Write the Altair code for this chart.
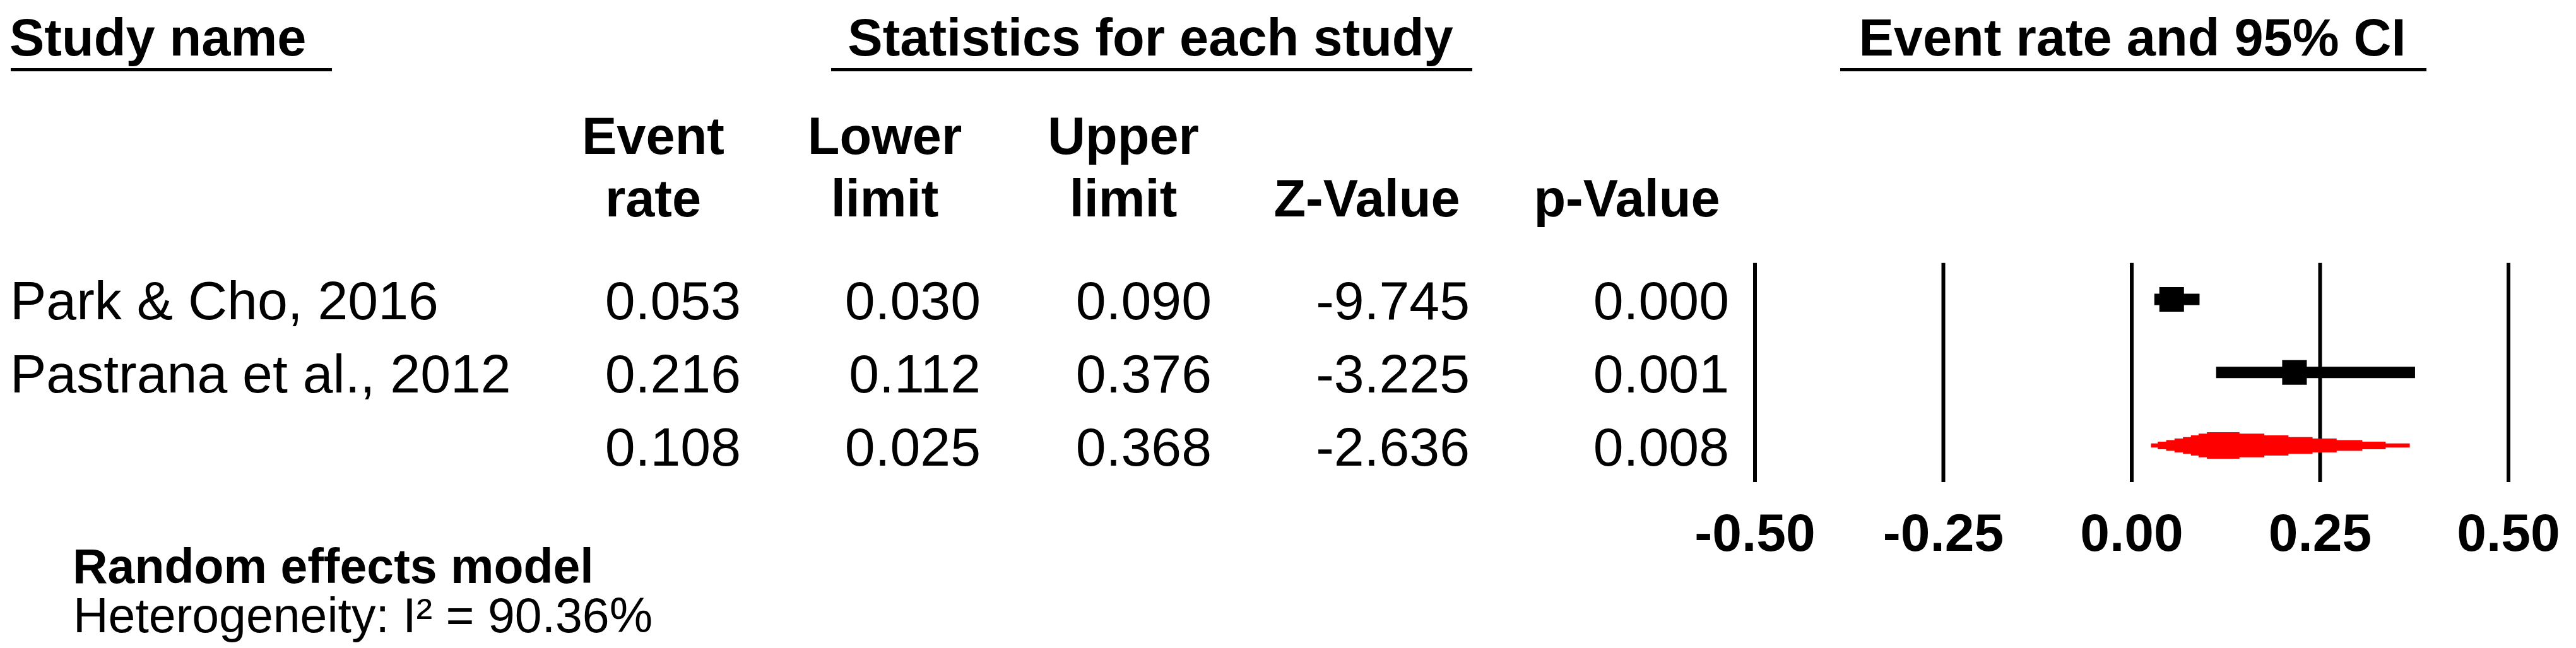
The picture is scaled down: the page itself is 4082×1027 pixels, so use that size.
import altair as alt
import pandas as pd

# ---------------- data ----------------
study_names = ["Park & Cho, 2016", "Pastrana et al., 2012", ""]
event_rate = [0.053, 0.216, 0.108]
lower_limit = [0.030, 0.112, 0.025]
upper_limit = [0.090, 0.376, 0.368]
z_value = [-9.745, -3.225, -2.636]
p_value = [0.000, 0.001, 0.008]
is_summary = [False, False, True]

col_headers = [("Event", "rate"), ("Lower", "limit"), ("Upper", "limit"), ("", "Z-Value"), ("", "p-Value")]
titles = ["Study name", "Statistics for each study", "Event rate and 95% CI"]

tick_values = [-0.50, -0.25, 0.00, 0.25, 0.50]
tick_labels = ["-0.50", "-0.25", "0.00", "0.25", "0.50"]

# summary diamond outline (event rate, relative half-thickness)
diamond_x = [0.0256, 0.0345, 0.0457, 0.0568, 0.068, 0.0785, 0.0887, 0.0998,
             0.143, 0.176, 0.208, 0.240, 0.272, 0.306, 0.337, 0.369]
diamond_half = [0.16, 0.29, 0.41, 0.52, 0.63, 0.76, 0.89, 1.0,
                0.89, 0.76, 0.63, 0.52, 0.41, 0.29, 0.16, 0.16]

model_label = "Random effects model"
heterogeneity_label = "Heterogeneity: I\u00b2 = 90.36%"

# ---------------- layout ----------------
FONT = "Liberation Sans"
W, H = 4066, 1011
ROW1_Y, ROW_STEP = 466.5, 115.75
X0_PX, PX_PER_UNIT = 3370.0, 1194.0

xscale = alt.Scale(domain=[-X0_PX / PX_PER_UNIT, (W - X0_PX) / PX_PER_UNIT], nice=False, zero=False)
yscale = alt.Scale(domain=[1 - ROW1_Y / ROW_STEP, 1 + (H - ROW1_Y) / ROW_STEP],
                   reverse=True, nice=False, zero=False)

n = len(study_names)
rows = pd.DataFrame({
    "row": list(range(1, n + 1)),
    "name": study_names,
    "er": event_rate,
    "lo": lower_limit,
    "hi": upper_limit,
    "er_s": [f"{v:.3f}" for v in event_rate],
    "lo_s": [f"{v:.3f}" for v in lower_limit],
    "hi_s": [f"{v:.3f}" for v in upper_limit],
    "z_s": [f"{v:.3f}" for v in z_value],
    "p_s": [f"{v:.3f}" for v in p_value],
    "summary": is_summary,
})
studies = rows[~rows["summary"]]
summary_row = int(rows[rows["summary"]]["row"].iloc[0])

Y = lambda f: alt.Y(f, scale=yscale, axis=None)
X = lambda f: alt.X(f, scale=xscale, axis=None)


def label(text, x, y, size, bold=False, align="left"):
    return alt.Chart(pd.DataFrame({"t": [text]})).mark_text(
        align=align, baseline="alphabetic", font=FONT, fontSize=size,
        fontWeight="bold" if bold else "normal", color="black"
    ).encode(x=alt.value(x), y=alt.value(y), text="t:N")


def hline(x1, x2, y):
    return alt.Chart(pd.DataFrame({"d": [0]})).mark_rule(color="black", strokeWidth=5).encode(
        x=alt.value(x1), x2=alt.value(x2), y=alt.value(y))


layers = []

# titles with underlines
layers.append(label(titles[0], 7, 80, 83, bold=True, align="left"))
layers.append(label(titles[1], 1815, 80, 83, bold=True, align="center"))
layers.append(label(titles[2], 3371, 80, 83, bold=True, align="center"))
layers.append(hline(9, 518, 102.5))
layers.append(hline(1309, 2325, 102.5))
layers.append(hline(2908, 3837, 102.5))

# column headers
header_x = [1027, 1394, 1772, 2158, 2570]
for (l1, l2), hx in zip(col_headers, header_x):
    if l1:
        layers.append(label(l1, hx, 236, 83, bold=True, align="center"))
    layers.append(label(l2, hx, 335, 83, bold=True, align="center"))

# table body
def col(field, x, align):
    return alt.Chart(rows).mark_text(
        align=align, baseline="alphabetic", dy=31.5, font=FONT, fontSize=86, color="black"
    ).encode(x=alt.value(x), y=Y("row:Q"), text=f"{field}:N")

layers.append(col("name", 8, "left"))
for field, xr in zip(["er_s", "lo_s", "hi_s", "z_s", "p_s"], [1166, 1546, 1912, 2321, 2732]):
    layers.append(col(field, xr, "right"))

# forest plot: vertical reference lines
ticks = pd.DataFrame({"v": tick_values, "lab": tick_labels,
                      "y0": [0.5] * len(tick_values), "y1": [n + 0.5] * len(tick_values)})
layers.append(alt.Chart(ticks).mark_rule(color="black", strokeWidth=6).encode(
    x=X("v:Q"), y=Y("y0:Q"), y2="y1:Q"))
layers.append(alt.Chart(ticks).mark_text(
    align="center", baseline="alphabetic", font=FONT, fontSize=84, fontWeight="bold", color="black"
).encode(x=X("v:Q"), y=alt.value(865), text="lab:N"))

# CI bars and squares
layers.append(alt.Chart(studies).mark_rule(color="black", strokeWidth=18).encode(
    x=X("lo:Q"), x2="hi:Q", y=Y("row:Q")))
layers.append(alt.Chart(studies).mark_square(color="black", size=1521, opacity=1).encode(
    x=X("er:Q"), y=Y("row:Q")))

# summary diamond
DIAMOND_HALF_ROWS = 21.0 / ROW_STEP
dia = pd.DataFrame({
    "dx": diamond_x,
    "ylo": [summary_row - h * DIAMOND_HALF_ROWS for h in diamond_half],
    "yhi": [summary_row + h * DIAMOND_HALF_ROWS for h in diamond_half],
})
layers.append(alt.Chart(dia).mark_area(color="#FF0000", interpolate="step-after", opacity=1).encode(
    x=X("dx:Q"), y=Y("ylo:Q"), y2="yhi:Q"))

# bottom notes
layers.append(label(model_label, 107, 916, 77, bold=True))
layers.append(label(heterogeneity_label, 108, 994, 77, bold=False))

chart = alt.layer(*layers).properties(
    width=W, height=H, padding=0,
    autosize=alt.AutoSizeParams(type="none"),
    background="white",
).configure_view(stroke=None)

chart.save("out.html", embed_options={"renderer": "svg", "actions": False})
